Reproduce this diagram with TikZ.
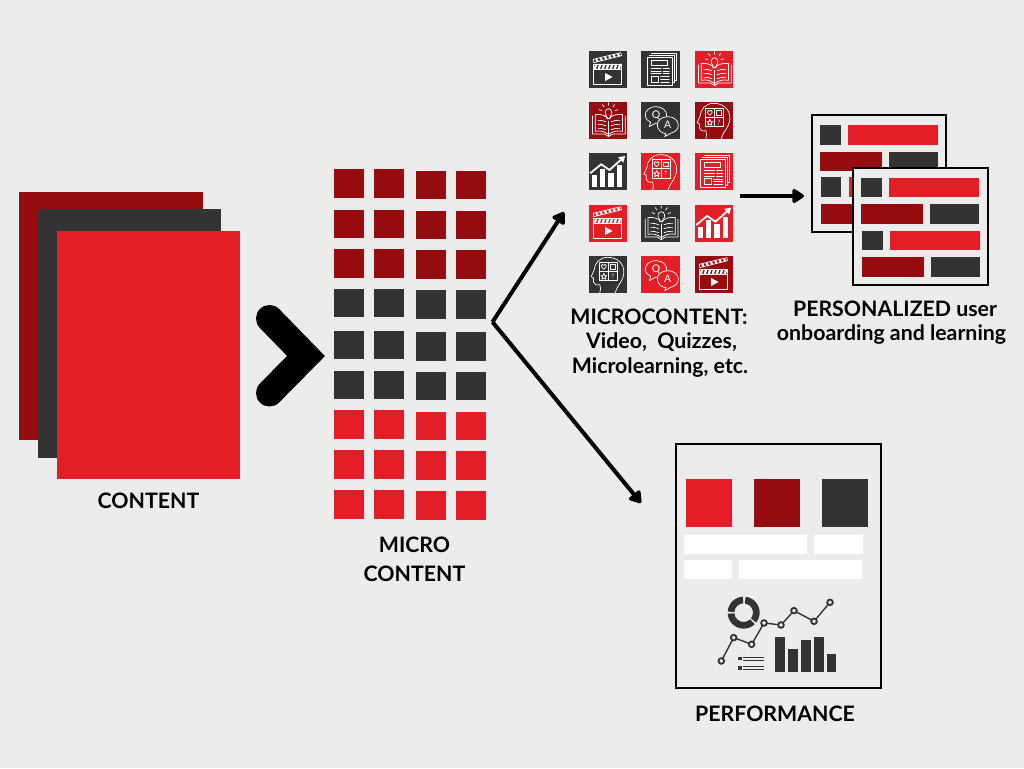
\documentclass[tikz,border=0pt]{standalone}
\usepackage{fontspec}
\setmainfont{Lato}
\usetikzlibrary{arrows.meta}
\definecolor{bgc}{HTML}{ECECEC}
\definecolor{redc}{HTML}{E31E26}
\definecolor{darkredc}{HTML}{970C10}
\definecolor{darkc}{HTML}{333333}
\tikzset{
  box/.style={draw=none,inner sep=0pt,outer sep=0pt,anchor=north west},
  lab/.style={font=\fontsize{21.3}{24}\bfseries\selectfont,text=black,inner sep=0pt,align=center},
  conn/.style={draw=black,line width=4pt,-{Triangle[length=13pt,width=16pt,round]},line join=miter},
  frame/.style={draw=black,line width=2pt,fill=bgc},
  ic/.style={draw=white,line width=0.7pt,line join=round,line cap=round},
  icf/.style={fill=white,draw=none},
}
% filled rectangle node given by px corners
\newcommand{\bx}[6]{\node[box,fill=#2,minimum width=#5pt-#3pt,minimum height=#6pt-#4pt] (#1) at (#3,#4) {};}
\newcommand{\icClap}{
  \draw[ic] (15,55) rectangle (100,100);
  \draw[ic] (15,39) rectangle (100,55);
  \foreach \i in {0,1,2,3,4,5,6}{\fill[white] (20+\i*12,39)--(27+\i*12,39)--(22+\i*12,55)--(15+\i*12,55)--cycle;}
  \draw[ic] (14,25)--(97,5)--(99,14)--(16,35)--cycle;
  \foreach \i in {0,1,2,3,4,5}{\fill[white] (20+\i*13,23.5-\i*3.1)--(26+\i*13,22-\i*3.1)--(30+\i*13,31-\i*3.1)--(24+\i*13,32.5-\i*3.1)--cycle;}
  \fill[white] (50,66)--(50,90)--(72,78)--cycle;
}
\newcommand{\icNews}{
  \draw[ic] (19,19) rectangle (94,102);
  \draw[ic] (24,12)--(100,12)--(100,95)--(94,95);
  \draw[ic] (30,6)--(106,6)--(106,88)--(100,88);
  \draw[ic] (29,27) rectangle (78,43);
  \foreach \y in {52,60,68}{\draw[ic] (29,\y)--(60,\y);\draw[ic] (66,\y)--(84,\y);}
  \draw[ic] (29,76) rectangle (50,94);
  \foreach \y in {77,85,93}{\draw[ic] (58,\y)--(84,\y);}
}
\newcommand{\icBook}{
  \draw[ic] (12,42)--(12,96)--(48,96)--(60,104)--(72,96)--(110,96)--(110,42);
  \draw[ic] (60,58)--(60,104);
  \draw[ic] (20,38) .. controls (35,34) and (52,42) .. (60,50) .. controls (68,42) and (85,34) .. (102,38);
  \draw[ic] (20,38)--(20,88) .. controls (35,84) and (52,90) .. (60,98) .. controls (68,90) and (85,84) .. (102,88)--(102,38);
  \foreach \y in {56,68,80}{
    \draw[ic] (28,\y) .. controls (36,\y-2) and (44,\y) .. (52,\y+3);
    \draw[ic] (68,\y+3) .. controls (76,\y) and (84,\y-2) .. (94,\y);}
  \draw[ic,fill=none] (55,50)--(55,44) .. controls (46,36) and (50,20) .. (60,20) .. controls (70,20) and (74,36) .. (65,44)--(65,50)--cycle;
  \draw[ic] (60,2)--(60,10) (42,8)--(47,15) (78,8)--(73,15) (32,23)--(40,26) (88,23)--(80,26);
}
\newcommand{\icQA}[1]{
  \draw[ic,fill=#1] (44,14) .. controls (22,14) and (12,28) .. (12,39) .. controls (12,50) and (20,58) .. (28,61) -- (24,74) -- (42,64) .. controls (62,66) and (76,54) .. (76,39) .. controls (76,25) and (62,14) .. (44,14) -- cycle;
  \draw[ic,fill=#1] (80,44) .. controls (60,44) and (48,56) .. (48,69) .. controls (48,82) and (60,94) .. (74,95) -- (70,104) -- (90,93) .. controls (104,90) and (111,80) .. (111,69) .. controls (111,55) and (97,44) .. (80,44) -- cycle;
  \node[inner sep=0pt,text=white,font=\fontsize{10.5}{10.5}\selectfont] (qq) at (44,39) {Q};
  \node[inner sep=0pt,text=white,font=\fontsize{10.5}{10.5}\selectfont] (qa) at (79,69) {A};
}
\newcommand{\icHead}{
  \draw[ic] (80,110) .. controls (84,90) and (106,76) .. (106,48) .. controls (106,20) and (84,4) .. (58,4) .. controls (32,4) and (18,22) .. (17,42) -- (8,62) -- (15,66) -- (15,78) .. controls (16,86) and (24,88) .. (34,86) .. controls (38,94) and (36,102) .. (34,110);
  \draw[ic] (32,19) rectangle (87,74);
  \draw[ic] (59.5,19)--(59.5,74) (32,46.5)--(87,46.5);
  \draw[ic] (46,40) .. controls (36,32) and (38,25) .. (42,25) .. controls (44,25) and (46,27) .. (46,28) .. controls (46,27) and (48,25) .. (50,25) .. controls (54,25) and (56,32) .. (46,40) -- cycle;
  \draw[ic] (66,26) rectangle (80,40);
  \draw[ic] (46,52)--(49,59)--(55,59)--(50,63)--(52,70)--(46,66)--(40,70)--(42,63)--(37,59)--(43,59)--cycle;
  \node[inner sep=0pt,text=white,font=\fontsize{6}{6}\selectfont] (qm) at (73,60) {?};
}
\newcommand{\icChart}{
  \fill[white] (10,66) rectangle (26,100);
  \fill[white] (34,46) rectangle (50,100);
  \fill[white] (59,58) rectangle (75,100);
  \fill[white] (84,36) rectangle (100,100);
  \draw[draw=white,line width=1.8pt,-{Triangle[length=6pt,width=7pt]}] (5,60)--(38,33)--(63,50)--(110,8);
}
% tile: name, x, y (px of top left), colour, icon body
\newcommand{\tile}[5]{
  \node[box,fill=#4,minimum width=38.5pt,minimum height=37pt] (#1) at (#2,#3) {};
  \begin{scope}[shift={(#2,#3)},x=0.3333pt,y=-0.3333pt]#5\end{scope}
}
\begin{document}
\begin{tikzpicture}[x=1pt,y=-1pt]
\useasboundingbox[fill=bgc] (0,0) rectangle (1024,768);

% content stack
\bx{c1}{darkredc}{19}{192}{203}{440}
\bx{c2}{darkc}{38}{209}{221}{458}
\bx{c3}{redc}{56.5}{231}{240}{479}
\node[lab] (contentlab) at (148.5,500.5) {CONTENT};

% chevron
\coordinate (chevA) at (269.5,318.5);
\coordinate (chevB) at (306,356);
\coordinate (chevC) at (269.5,393);
\draw[line width=27pt,line cap=round,line join=miter,miter limit=10] (chevA)--(chevB)--(chevC);

% micro squares
\foreach \r/\c/\ya/\yb in {1/darkredc/169.3/170.5,2/darkredc/209.5/210.5,3/darkredc/249/250,4/darkc/288.5/290,5/darkc/330.5/332,6/darkc/370.5/371.5,7/redc/410/411.5,8/redc/450/451,9/redc/490/491}{
  \node[box,fill=\c,minimum width=30pt,minimum height=28.6pt] (m\r a) at (333.7,\ya) {};
  \node[box,fill=\c,minimum width=30pt,minimum height=28.6pt] (m\r b) at (374.3,\ya) {};
  \node[box,fill=\c,minimum width=30pt,minimum height=28.6pt] (m\r c) at (416,\yb) {};
  \node[box,fill=\c,minimum width=30pt,minimum height=28.6pt] (m\r d) at (456,\yb) {};
}
\node[lab] (microlab) at (414.5,559.5) {MICRO\\[5.5pt]CONTENT};

% connectors
\coordinate (split) at (492.5,322);
\coordinate (upEnd) at (564,212);
\coordinate (downEnd) at (641,503);
\coordinate (iconsOut) at (740,196);
\coordinate (cardsIn) at (804,196);
\draw[conn] (split)--(upEnd);
\draw[conn] (split)--(downEnd);
\draw[conn] (iconsOut)--(cardsIn);

% icon tiles
\tile{t11}{588.5}{51}{darkc}{\icClap}
\tile{t12}{641.3}{51}{darkc}{\icNews}
\tile{t13}{694.5}{51}{redc}{\icBook}
\tile{t21}{588.5}{102}{darkredc}{\icBook}
\tile{t22}{641.3}{102}{darkc}{\icQA{darkc}}
\tile{t23}{694.5}{102}{darkredc}{\icHead}
\tile{t31}{588.5}{153.3}{darkc}{\icChart}
\tile{t32}{641.3}{153.3}{redc}{\icHead}
\tile{t33}{694.5}{153.3}{redc}{\icNews}
\tile{t41}{588.5}{205}{redc}{\icClap}
\tile{t42}{641.3}{205}{darkc}{\icBook}
\tile{t43}{694.5}{205}{redc}{\icChart}
\tile{t51}{588.5}{256}{darkc}{\icHead}
\tile{t52}{641.3}{256}{redc}{\icQA{redc}}
\tile{t53}{694.5}{256}{darkredc}{\icClap}
\node[lab] (microcontentlab) at (660,343) {\hspace*{-2pt}MICROCONTENT:\\[0.5pt]\hspace*{3pt}Video,\ \ Quizzes,\\[0.5pt]Microlearning, etc.};

% personalised cards
\node[box,frame,minimum width=134pt,minimum height=116.5pt] (card1) at (812,115) {};
\bx{k1}{darkc}{820}{125}{840.7}{144.5}
\bx{k2}{redc}{848}{125}{938}{144.5}
\bx{k3}{darkredc}{820}{151.5}{882}{171}
\bx{k4}{darkc}{889}{151.5}{938}{171}
\bx{k5}{darkc}{820.7}{177}{841}{197}
\bx{k6}{redc}{848.7}{177}{938}{197}
\bx{k7}{darkredc}{820.7}{204}{882.7}{224}
\bx{k8}{darkc}{889}{204}{938}{224}
\node[box,frame,minimum width=134.5pt,minimum height=116.5pt] (card2) at (853,168) {};
\bx{l1}{darkc}{861}{177.5}{882}{197}
\bx{l2}{redc}{889}{177.5}{979}{197}
\bx{l3}{darkredc}{861}{204}{923}{224}
\bx{l4}{darkc}{930}{204}{979}{224}
\bx{l5}{darkc}{862}{230.5}{882.7}{250}
\bx{l6}{redc}{890}{230.5}{979.7}{250}
\bx{l7}{darkredc}{862}{257}{924}{276.5}
\bx{l8}{darkc}{931}{257}{980}{276.5}
\node[lab] (perslab) at (891.5,322.5) {\hspace*{7pt}PERSONALIZED user\\[0.5pt]onboarding and learning};

% performance panel
\node[box,frame,minimum width=205.5pt,minimum height=244pt] (perf) at (675.7,444.3) {};
\bx{p1}{redc}{686.3}{479}{732.3}{526.5}
\bx{p2}{darkredc}{754}{479}{800}{526.5}
\bx{p3}{darkc}{822}{479}{868}{526.5}
\bx{w1}{white}{684}{535.3}{807}{554.3}
\bx{w2}{white}{814.3}{535.3}{863}{554.3}
\bx{w3}{white}{684}{560}{732}{579}
\bx{w4}{white}{738.7}{560}{862}{579}
\begin{scope}[shift={(670,440)},x=0.3333pt,y=-0.3333pt]
  % donut
  \foreach \a/\b in {-83/38,46/176,184/267}{
    \fill[darkc] ({221+48*cos(\a)},{518+48*sin(\a)}) arc[start angle=-\a,end angle=-\b,x radius=48,y radius=-48] -- ({221+28*cos(\b)},{518+28*sin(\b)}) arc[start angle=-\b,end angle=-\a,x radius=28,y radius=-28] -- cycle;
  }
  % line chart
  \draw[darkc,line width=1.4pt] (154,663)--(191,593)--(245,613)--(282,549)--(333,555)--(372,512)--(432,544)--(480,487);
  \foreach \x/\y in {154/663,191/593,245/613,282/549,333/555,372/512,432/544,480/487}{
    \draw[darkc,line width=1.8pt,fill=bgc] (\x,\y) circle[radius=8.5];
  }
  % bars
  \fill[darkc] (315,592) rectangle (344,697);
  \fill[darkc] (354,628) rectangle (383,697);
  \fill[darkc] (393,601) rectangle (422,697);
  \fill[darkc] (432,592) rectangle (461,697);
  \fill[darkc] (471,643) rectangle (499,697);
  % list
  \fill[darkc] (204,651) rectangle (215,661);
  \fill[darkc] (204,679) rectangle (215,689);
  \draw[darkc,line width=1pt] (220,652)--(281,652) (220,661)--(281,661) (220,680)--(281,680) (220,689)--(281,689);
\end{scope}
\node[lab] (perflab) at (775,713.5) {PERFORMANCE};
\end{tikzpicture}
\end{document}
